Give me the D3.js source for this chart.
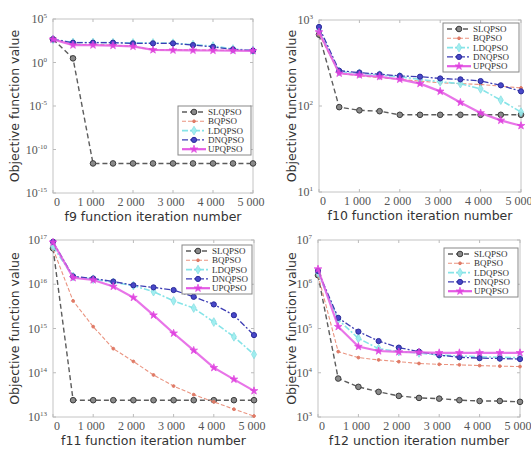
<!DOCTYPE html>
<html>
<head>
<meta charset="utf-8">
<script src="https://cdn.jsdelivr.net/npm/d3@7"></script>
<style>
  body { margin: 0; background: #fff; }
  svg { display: block; }
  .tick-label { font-family: "Liberation Serif", "DejaVu Serif", serif; font-size: 12px; fill: #555; }
  .axis-title { font-family: "DejaVu Sans", sans-serif; font-size: 12.5px; fill: #333; }
  .legend-label { font-family: "Liberation Serif", serif; font-size: 9px; fill: #333; }
</style>
</head>
<body>
<div id="chart"></div>
<script>
// iterations where markers are drawn
var iterations = [0, 500, 1000, 1500, 2000, 2500, 3000, 3500, 4000, 4500, 5000];
var xTicks = [0, 1000, 2000, 3000, 4000, 5000];
var seriesNames = ['SLQPSO', 'BQPSO', 'LDQPSO', 'DNQPSO', 'UPQPSO'];

// f9
var f9SLQPSO = [460, 3, 2.5e-12, 2.5e-12, 2.5e-12, 2.5e-12, 2.5e-12, 2.5e-12, 2.5e-12, 2.5e-12, 2.5e-12];
var f9BQPSO  = [460, 126, 112, 100, 71, 28, 28, 28, 26, 25, 24];
var f9LDQPSO = [460, 200, 200, 190, 178, 178, 166, 112, 79, 35, 25];
var f9DNQPSO = [460, 190, 190, 190, 158, 158, 158, 100, 63, 32, 23];
var f9UPQPSO = [460, 100, 100, 89, 71, 28, 26, 25, 24, 23, 22];
var f9Ticks  = [1e-15, 1e-10, 1e-5, 1e0, 1e5];

// f10
var f10SLQPSO = [676, 97, 89, 87, 79, 79, 79, 79, 79, 79, 79];
var f10BQPSO  = [690, 240, 224, 214, 204, 195, 186, 182, 178, 170, 162];
var f10LDQPSO = [760, 251, 240, 229, 219, 204, 191, 182, 158, 117, 85];
var f10DNQPSO = [830, 257, 245, 234, 224, 219, 209, 204, 195, 174, 148];
var f10UPQPSO = [724, 240, 229, 219, 204, 182, 148, 110, 83, 68, 59];
var f10Ticks  = [1e1, 1e2, 1e3];

// f11
var f11SLQPSO = [6.5e16, 2.4e13, 2.4e13, 2.4e13, 2.4e13, 2.4e13, 2.4e13, 2.4e13, 2.4e13, 2.4e13, 2.4e13];
var f11BQPSO  = [6.3e16, 4.2e15, 1.1e15, 3.5e14, 1.8e14, 8.9e13, 5.0e13, 3.2e13, 2.2e13, 1.5e13, 1.05e13];
var f11LDQPSO = [7.1e16, 1.5e16, 1.3e16, 1.1e16, 9.3e15, 6.8e15, 4.2e15, 2.9e15, 1.4e15, 6.5e14, 2.6e14];
var f11DNQPSO = [9.1e16, 1.5e16, 1.35e16, 1.15e16, 9.5e15, 8.5e15, 7.4e15, 5.2e15, 3.5e15, 2.0e15, 7.1e14];
var f11UPQPSO = [8.9e16, 1.4e16, 1.25e16, 8.9e15, 5.0e15, 2.0e15, 7.8e14, 3.2e14, 1.3e14, 7.1e13, 3.9e13];
var f11Ticks  = [1e13, 1e14, 1e15, 1e16, 1e17];

// f12
var f12SLQPSO = [1.6e6, 7400, 4800, 3700, 3000, 2700, 2600, 2400, 2300, 2300, 2200];
var f12BQPSO  = [1.6e6, 30000, 22000, 19500, 17800, 16200, 15500, 15100, 14500, 14100, 13800];
var f12LDQPSO = [1.8e6, 158000, 60000, 35000, 30000, 28000, 25000, 24000, 23000, 22400, 21900];
var f12DNQPSO = [2.0e6, 174000, 85000, 52000, 37000, 30000, 25000, 22400, 21400, 20900, 20400];
var f12UPQPSO = [2.2e6, 110000, 39000, 31000, 29500, 29000, 28200, 28200, 28200, 28200, 28200];
var f12Ticks  = [1e3, 1e4, 1e5, 1e6, 1e7];

var xTitles = ['f9 function iteration number', 'f10 function iteration number',
               'f11 function iteration number', 'f12 unction iteration number'];

var W = 531, H = 450;

// per series drawing style
var styles = {
  SLQPSO: {color: '#5c5c5c', dash: '5,3',     width: 1.4, marker: 'circle',  r: 2.8, fill: '#8a8a8a', stroke: '#3c3c3c'},
  BQPSO:  {color: '#ea9480', dash: '4,2',     width: 1.1, marker: 'dot',     r: 1.4, fill: '#e07a66', stroke: '#e07a66'},
  LDQPSO: {color: '#86e4e8', dash: '6,2,2,2', width: 1.6, marker: 'diamond', r: 4,   fill: '#9beef0', stroke: '#7fdce0'},
  DNQPSO: {color: '#3d3db4', dash: '6,2,2,2', width: 1.3, marker: 'circle',  r: 2.6, fill: '#4848c8', stroke: '#2c2c9a'},
  UPQPSO: {color: '#e45ce4', dash: null,      width: 2.2, marker: 'star',    r: 3,   fill: '#e040e0', stroke: '#e040e0'}
};

var panels = [
  {box: [53, 19, 253, 193],   ticks: f9Ticks,  series: [f9SLQPSO, f9BQPSO, f9LDQPSO, f9DNQPSO, f9UPQPSO],
   title: xTitles[0], legend: [178, 106], yTitleX: 15},
  {box: [319, 20, 521, 192],  ticks: f10Ticks, series: [f10SLQPSO, f10BQPSO, f10LDQPSO, f10DNQPSO, f10UPQPSO],
   title: xTitles[1], legend: [443, 23], yTitleX: 292},
  {box: [53, 240, 254, 417],  ticks: f11Ticks, series: [f11SLQPSO, f11BQPSO, f11LDQPSO, f11DNQPSO, f11UPQPSO],
   title: xTitles[2], legend: [182, 245], yTitleX: 15},
  {box: [318, 240, 520, 417], ticks: f12Ticks, series: [f12SLQPSO, f12BQPSO, f12LDQPSO, f12DNQPSO, f12UPQPSO],
   title: xTitles[3], legend: [444, 248], yTitleX: 292}
];

var svg = d3.select('#chart').append('svg')
  .attr('width', W)
  .attr('height', H);

var drawMarker = function(g, st, cx, cy) {
  if (st.marker === 'circle' || st.marker === 'dot') {
    g.append('circle').attr('cx', cx).attr('cy', cy).attr('r', st.r)
      .attr('fill', st.fill).attr('stroke', st.stroke).attr('stroke-width', 1);
  } else {
    var type = st.marker === 'diamond' ? d3.symbolDiamond : d3.symbolStar;
    var size = st.marker === 'diamond' ? 22 : 18;
    g.append('path').attr('d', d3.symbol().type(type).size(size)())
      .attr('transform', 'translate(' + cx + ',' + cy + ')')
      .attr('fill', st.fill).attr('stroke', st.stroke).attr('stroke-width', 0.8)
      .attr('opacity', 0.9);
  }
};

panels.forEach(function(p) {
  var x0 = p.box[0], y0 = p.box[1], x1 = p.box[2], y1 = p.box[3];

  var x = d3.scaleLinear().domain([0, 5000]).range([x0, x1]);
  var y = d3.scaleLog().domain([p.ticks[0], p.ticks[p.ticks.length - 1]]).range([y1, y0]);

  var g = svg.append('g');

  // box
  g.append('rect')
    .attr('x', x0).attr('y', y0)
    .attr('width', x1 - x0).attr('height', y1 - y0)
    .attr('fill', '#fff').attr('stroke', '#c4c4c4').attr('stroke-width', 1);

  // inward ticks
  xTicks.forEach(function(t) {
    g.append('line').attr('x1', x(t)).attr('x2', x(t)).attr('y1', y1).attr('y2', y1 - 3)
      .attr('stroke', '#bbb');
    g.append('line').attr('x1', x(t)).attr('x2', x(t)).attr('y1', y0).attr('y2', y0 + 3)
      .attr('stroke', '#bbb');
  });
  p.ticks.forEach(function(t) {
    g.append('line').attr('x1', x0).attr('x2', x0 + 3).attr('y1', y(t)).attr('y2', y(t))
      .attr('stroke', '#bbb');
    g.append('line').attr('x1', x1).attr('x2', x1 - 3).attr('y1', y(t)).attr('y2', y(t))
      .attr('stroke', '#bbb');
  });

  // x tick labels
  g.selectAll('.xt')
    .data(xTicks)
  .enter().append('text')
    .attr('class', 'tick-label')
    .attr('x', function(d) { return d === 0 ? x(d) + 4 : x(d) - 2; })
    .attr('y', y1 + 13)
    .attr('text-anchor', 'middle')
    .text(function(d) { return d === 0 ? '0' : d3.format('d')(d / 1000) + ' 000'; });

  // y tick labels 10^n
  p.ticks.forEach(function(t) {
    var e = Math.round(Math.log10(t));
    var txt = g.append('text')
      .attr('class', 'tick-label')
      .attr('x', x0 - 6)
      .attr('y', y(t) + 4)
      .attr('text-anchor', 'end');
    txt.append('tspan').text('10');
    txt.append('tspan').attr('dy', -5).style('font-size', '7px').text(String(e));
  });

  // axis titles
  g.append('text')
    .attr('class', 'axis-title')
    .attr('x', (x0 + x1) / 2)
    .attr('y', y1 + 28)
    .attr('text-anchor', 'middle')
    .text(p.title);

  g.append('text')
    .attr('class', 'axis-title')
    .attr('transform', 'translate(' + (p.yTitleX + 4) + ',' + ((y0 + y1) / 2) + ') rotate(-90)')
    .attr('text-anchor', 'middle')
    .text('Objective function value');

  var line = d3.line()
    .x(function(d, i) { return x(iterations[i]); })
    .y(function(d) { return y(d); });

  // lines + markers
  var lines = g.append('g').attr('class', 'lines');
  seriesNames.forEach(function(name, si) {
    var st = styles[name];
    var values = p.series[si];
    lines.append('path')
      .datum(values)
      .attr('d', line)
      .attr('fill', 'none')
      .attr('stroke', st.color)
      .attr('stroke-width', st.width)
      .attr('stroke-dasharray', st.dash)
      .attr('opacity', name === 'UPQPSO' ? 0.85 : 1);
    var mg = lines.append('g');
    values.forEach(function(v, i) {
      drawMarker(mg, st, x(iterations[i]), y(v));
    });
  });

  // legend
  var lx = p.legend[0], ly = p.legend[1];
  var lw = x1 - 2 - lx, lh = 49;
  var lg = g.append('g').attr('class', 'legend');
  lg.append('rect')
    .attr('x', lx).attr('y', ly).attr('width', lw).attr('height', lh)
    .attr('fill', '#fff').attr('stroke', '#888').attr('stroke-width', 1);
  seriesNames.forEach(function(name, i) {
    var st = styles[name];
    var cy = ly + 6 + i * 9.3;
    lg.append('line')
      .attr('x1', lx + 4).attr('x2', lx + 28).attr('y1', cy).attr('y2', cy)
      .attr('stroke', st.color).attr('stroke-width', st.width)
      .attr('stroke-dasharray', st.dash);
    drawMarker(lg, st, lx + 16, cy);
    lg.append('text')
      .attr('class', 'legend-label')
      .attr('x', lx + 30)
      .attr('y', cy + 3)
      .text(name);
  });
});
</script>
</body>
</html>
